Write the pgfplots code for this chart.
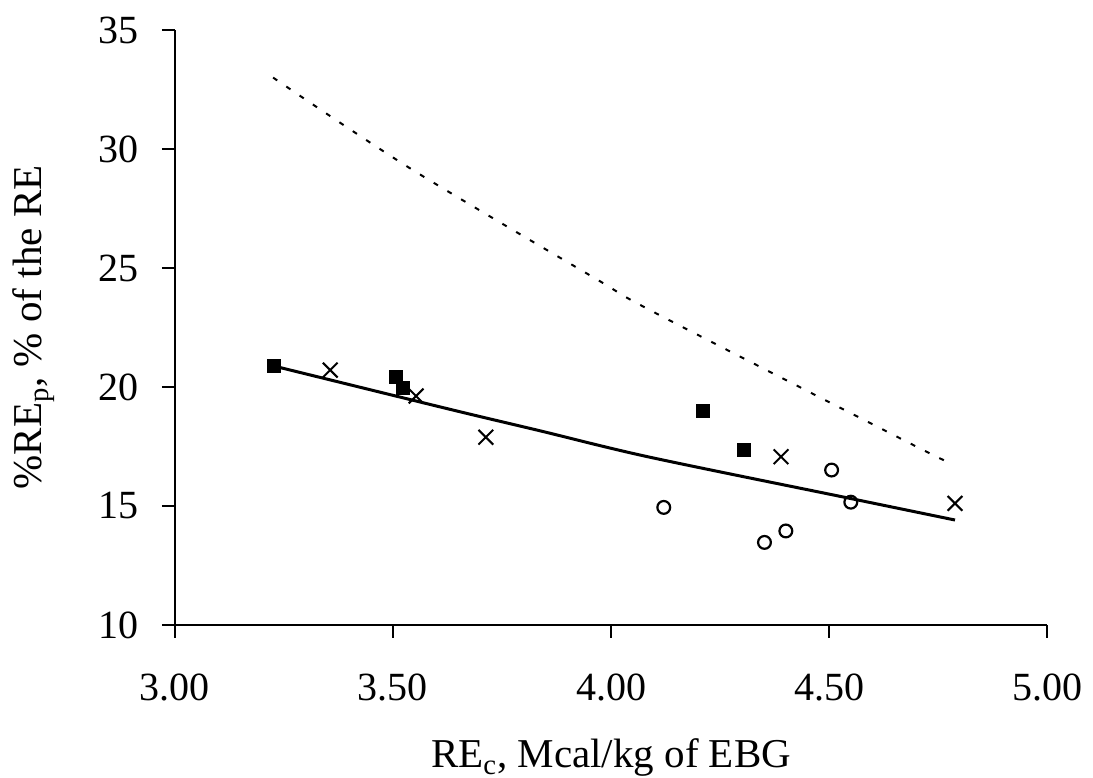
\documentclass[border=0pt]{standalone}
\usepackage{pgfplots}
\pgfplotsset{compat=1.18}
\usepackage{fontspec}
\setmainfont{Liberation Serif}

\begin{document}
\begin{tikzpicture}[font=\fontsize{20}{24}\selectfont]
\begin{axis}[
    name=ax,
    scale only axis,
    width=436pt, height=297.5pt,
    xmin=3, xmax=5, ymin=10, ymax=35,
    xtick={3,3.5,4,4.5,5},
    ytick={10,15,20,25,30,35},
    xticklabel={\pgfmathprintnumber[fixed,fixed zerofill,precision=2]{\tick}},
    /pgf/number format/assume math mode=true,
    axis x line*=bottom, axis y line*=left,
    axis line style={line width=1pt, -},
    tick style={line width=1pt, black},
    tick align=outside,
    major tick length=6.5pt,
    every tick label/.append style={font=\fontsize{20}{24}\selectfont},
    xticklabel style={anchor=base, yshift=-31.5pt},
    yticklabel style={anchor=east, xshift=-8pt},
    xlabel={RE\textsubscript{c}, Mcal/kg of EBG},
    ylabel={\%RE\textsubscript{p}, \% of the RE},
    label style={font=\fontsize{20.5}{24}\selectfont},
    xlabel style={at={(axis description cs:0.5,0)}, anchor=base, yshift=-71.5pt},
    ylabel style={at={(axis description cs:-0.162,0.5)}, anchor=center},
    clip=false,
]
% dotted curve
\addplot[black, line width=1pt, dash pattern=on 2.5pt off 5.5pt, smooth, no marks]
  coordinates {(3.225,33.0) (3.539,29.19) (3.963,24.57) (4.103,23.10) (4.701,17.49) (4.778,16.82)};
% fitted curve
\addplot[black, line width=1.5pt, smooth, no marks]
  coordinates {(3.227,20.88) (3.631,19.06) (3.837,18.16) (4.089,17.05) (4.548,15.32) (4.789,14.41)};
% squares
\addplot[only marks, mark=square*, mark size=3.3pt, black]
  coordinates {(3.227,20.89) (3.507,20.43) (3.522,19.97) (4.210,18.99) (4.305,17.35)};
% crosses
\addplot[only marks, mark=x, mark size=5.2pt, black, mark options={line width=1pt}]
  coordinates {(3.356,20.71) (3.553,19.62) (3.713,17.89) (4.390,17.07) (4.789,15.11)};
% circles
\addplot[only marks, mark=o, mark size=3.2pt, black, mark options={line width=1.1pt}]
  coordinates {(4.121,14.94) (4.352,13.47) (4.401,13.95) (4.506,16.51) (4.550,15.16)};
\end{axis}
\pgfresetboundingbox
\path[use as bounding box] ([xshift=-87.5pt,yshift=-76.5pt]ax.south west) rectangle ([xshift=23pt,yshift=15pt]ax.north east);
\end{tikzpicture}
\end{document}
